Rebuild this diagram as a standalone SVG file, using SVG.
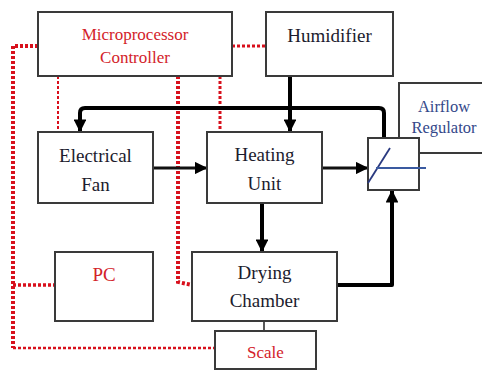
<svg xmlns="http://www.w3.org/2000/svg" width="482" height="371" viewBox="0 0 482 371">
<defs>
<style>
.box{fill:#fff;stroke:#3a3a3a;stroke-width:2}
.t{font-family:"Liberation Serif","DejaVu Serif","Times New Roman",serif;font-size:19px;fill:#1c1c2e;text-anchor:middle}
.r{fill:#d3222a;font-size:17px}
.b{fill:#34488a;font-size:16.5px}
.thick{fill:none;stroke:#000;stroke-width:4;stroke-linejoin:round}
.mid{fill:none;stroke:#111;stroke-width:3}
.red{fill:none;stroke:#d8101c;stroke-dasharray:3 2}
</style>
<marker id="ah" viewBox="0 0 10 10" refX="9" refY="5" markerWidth="3.2" markerHeight="3.2" orient="auto" markerUnits="strokeWidth">
<path d="M0,0 L10,5 L0,10 Z" fill="#000"/>
</marker>
<marker id="ah3" viewBox="0 0 10 10" refX="9" refY="5" markerWidth="4.2" markerHeight="4.2" orient="auto" markerUnits="strokeWidth">
<path d="M0,0 L10,5 L0,10 Z" fill="#000"/>
</marker>
</defs>
<rect width="482" height="371" fill="#fff"/>

<g id="connectors">
<path class="red" stroke-width="4" d="M38,46 H13 V348"/>
<path class="red" stroke-width="2.5" d="M13,348 H215"/>
<path class="red" stroke-width="3.5" d="M13,285 H55"/>
<path class="red" stroke-width="3" d="M232,46 H266"/>
<path class="red" stroke-width="2" d="M58,76 V132"/>
<path class="red" stroke-width="4" d="M178,76 V282 L192,285"/>
<path class="red" stroke-width="3" d="M220,76 V132"/>
<path class="thick" d="M290,76 V131" marker-end="url(#ah)"/>
<path class="thick" d="M384,138 V113 Q384,108 379,108 H85 Q80,108 80,113 V131" marker-end="url(#ah)"/>
<path class="mid" d="M153,168 H206" marker-end="url(#ah3)"/>
<path class="mid" d="M322,168 H367" marker-end="url(#ah3)"/>
<path class="thick" d="M262,203 V251" marker-end="url(#ah)"/>
<path class="thick" d="M337,285 H392 V191" marker-end="url(#ah)"/>
<path d="M264,321 V331" stroke="#222" stroke-width="1.5" fill="none"/>
</g>

<g id="controller">
<rect class="box" x="38" y="12" width="194" height="64"/>
<text class="t r" x="135" y="40">Microprocessor</text>
<text class="t r" x="135" y="63">Controller</text>
</g>
<g id="humidifier">
<rect class="box" x="266" y="12" width="127" height="64"/>
<text class="t" x="329.5" y="42">Humidifier</text>
</g>
<g id="airflow-regulator">
<rect class="box" x="399" y="83" width="95" height="70"/>
<text class="t b" x="444" y="112">Airflow</text>
<text class="t b" x="444" y="133">Regulator</text>
</g>
<g id="regulator-valve">
<rect class="box" x="368" y="138" width="51" height="52"/>
<line x1="368" y1="183" x2="390" y2="148" stroke="#2a3a80" stroke-width="1.8"/>
<line x1="376" y1="168" x2="426" y2="168" stroke="#3a5aa0" stroke-width="1.8"/>
</g>
<g id="electrical-fan">
<rect class="box" x="38" y="132" width="115" height="71"/>
<text class="t" x="95.5" y="162">Electrical</text>
<text class="t" x="95.5" y="191">Fan</text>
</g>
<g id="heating-unit">
<rect class="box" x="207" y="132" width="115" height="71"/>
<text class="t" x="264.5" y="161">Heating</text>
<text class="t" x="264.5" y="190">Unit</text>
</g>
<g id="pc">
<rect class="box" x="55" y="252" width="98" height="69"/>
<text class="t r" x="104" y="281" style="font-size:19px">PC</text>
</g>
<g id="drying-chamber">
<rect class="box" x="192" y="252" width="145" height="69"/>
<text class="t" x="264.5" y="279">Drying</text>
<text class="t" x="264.5" y="307">Chamber</text>
</g>
<g id="scale">
<rect class="box" x="215" y="331" width="101" height="38"/>
<text class="t r" x="265.5" y="358">Scale</text>
</g>
</svg>
